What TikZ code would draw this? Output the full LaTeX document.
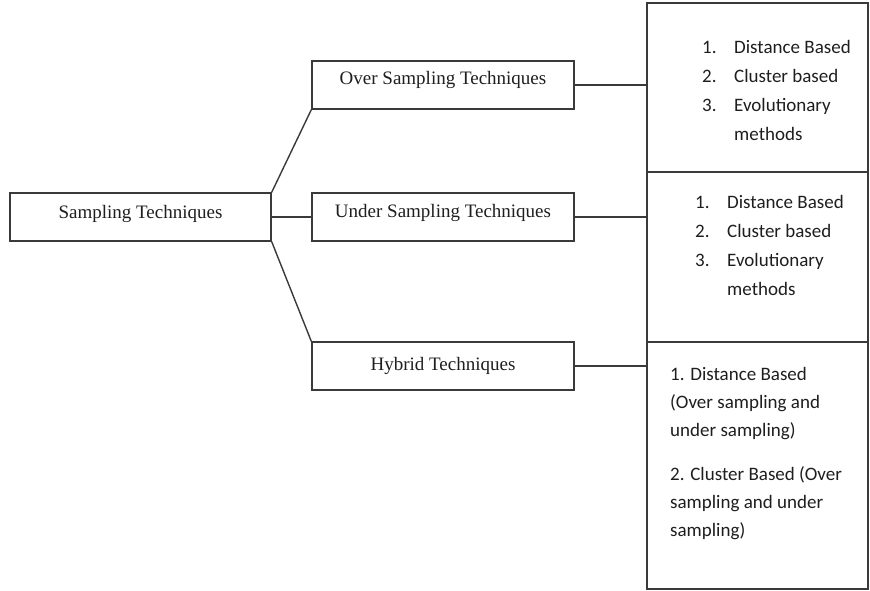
\documentclass[tikz,border=0pt]{standalone}
\usepackage{fontspec}
\setmainfont{Liberation Serif}
\newfontfamily\carl{Carlito}
\definecolor{linecol}{HTML}{3A3A3A}
\definecolor{txtcol}{HTML}{1E1E1E}
\tikzset{
  box/.style={draw=linecol, line width=1.4pt, rectangle, minimum width=261pt, minimum height=48pt,
    inner sep=0pt, text=txtcol, font=\fontsize{19}{23}\selectfont},
  rbox/.style={draw=linecol, line width=1.4pt, rectangle, inner sep=0pt},
  listtext/.style={anchor=north west, align=left, inner sep=0pt, text=txtcol,
    font=\carl\fontsize{19}{29}\selectfont},
  conn/.style={draw=linecol, line width=1.4pt}
}
\newcommand{\lift}[2]{\raisebox{#1}[\height][\depth]{#2}}
\newcommand{\itm}[1]{\makebox[32pt][l]{#1}}
\begin{document}
\begin{tikzpicture}[x=1pt,y=-1pt]
\useasboundingbox (0,0) rectangle (870,591);
\node[box] (samp) at (140.5,217) {\lift{3pt}{Sampling Techniques}};
\node[box, minimum width=262pt] (over) at (443,85) {\lift{5pt}{Over Sampling Techniques}};
\node[box, minimum width=262pt] (under) at (443,217) {\lift{4pt}{Under Sampling Techniques}};
\node[box, minimum width=262pt] (hyb) at (443,366) {Hybrid Techniques};

\node[rbox, minimum width=221pt, minimum height=169pt] (r1) at (757.5,87.5) {};
\node[rbox, minimum width=221pt, minimum height=170pt] (r2) at (757.5,257) {};
\node[rbox, minimum width=221pt, minimum height=247pt] (r3) at (757.5,465.5) {};

\node[listtext] (t1) at (702,40.5) {\itm{1.}Distance Based\\ \itm{2.}Cluster based\\ \itm{3.}Evolutionary\\ \hspace*{32pt}methods};
\node[listtext] (t2) at (695,195.5) {\itm{1.}Distance Based\\ \itm{2.}Cluster based\\ \itm{3.}Evolutionary\\ \hspace*{32pt}methods};
\node[listtext, font=\carl\fontsize{19}{28}\selectfont] (t3) at (670,367.5) {1. Distance Based\\ (Over sampling and\\ under sampling)\\[16pt] 2. Cluster Based (Over\\ sampling and under\\ sampling)};

\draw[conn] (samp.north east) -- (over.south west);
\draw[conn] (samp.east) -- (under.west);
\draw[conn] (samp.south east) -- (hyb.north west);
\draw[conn] (over.east) -- (over.east -| r1.west);
\draw[conn] (under.east) -- (under.east -| r2.west);
\draw[conn] (hyb.east) -- (hyb.east -| r3.west);
\end{tikzpicture}
\end{document}
